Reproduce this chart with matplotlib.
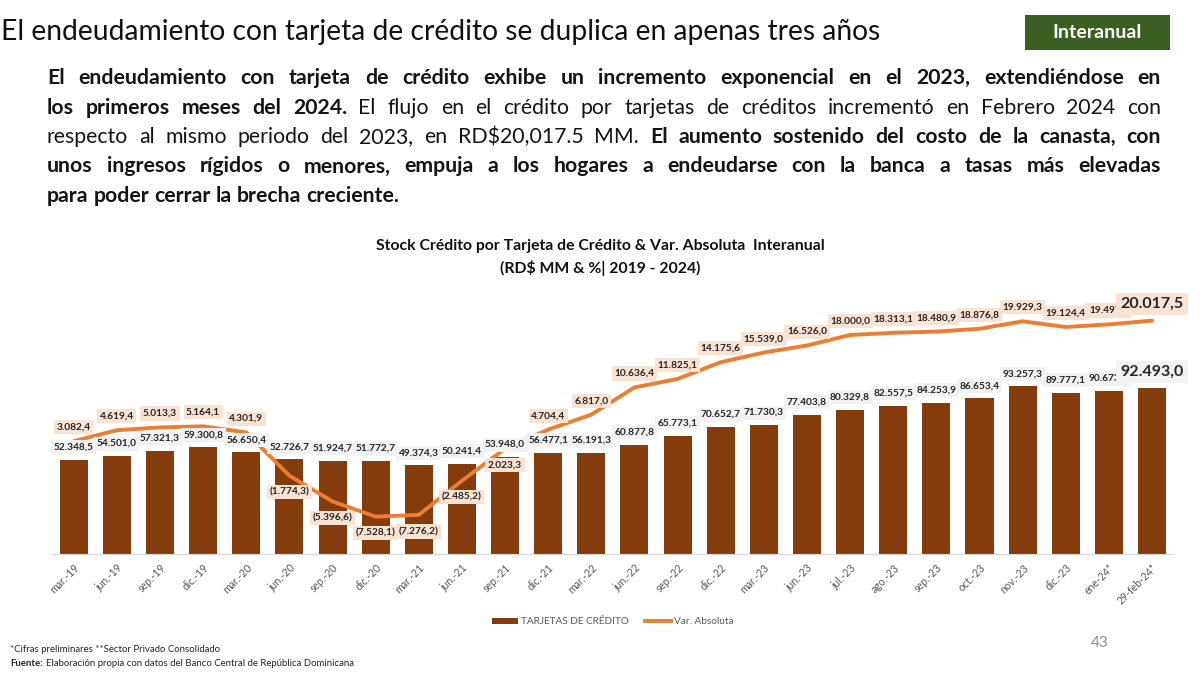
import matplotlib
matplotlib.use("Agg")
import matplotlib.pyplot as plt
from matplotlib.patches import Rectangle, Patch
from matplotlib.lines import Line2D

plt.rcParams['font.family'] = ['Lato', 'DejaVu Sans']

# datos (RD$ MM)
periodos = ["mar.-19", "jun.-19", "sep.-19", "dic.-19", "mar.-20", "jun.-20", "sep.-20", "dic.-20",
            "mar.-21", "jun.-21", "sep.-21", "dic.-21", "mar.-22", "jun.-22", "sep.-22", "dic.-22",
            "mar.-23", "jun.-23", "jul.-23", "ago.-23", "sep.-23", "oct.-23", "nov.-23", "dic.-23",
            "ene-24*", "29-feb-24*"]
stock = [52348.5, 54501.0, 57321.3, 59300.8, 56650.4, 52726.7, 51924.7, 51772.7,
         49374.3, 50241.4, 53948.0, 56477.1, 56191.3, 60877.8, 65773.1, 70652.7,
         71730.3, 77403.8, 80329.8, 82557.5, 84253.9, 86653.4, 93257.3, 89777.1,
         90673.0, 92493.0]
var_abs = [3082.4, 4619.4, 5013.3, 5164.1, 4301.9, -1774.3, -5396.6, -7528.1,
           -7276.2, -2485.2, 2023.3, 4704.4, 6817.0, 10636.4, 11825.1, 14175.6,
           15539.0, 16526.0, 18000.0, 18313.1, 18480.9, 18876.8, 19929.3, 19124.4,
           19497.0, 20017.5]

MARRON = '#843C0C'
NARANJA = '#ED7D31'
TEXTO = '#262626'


def fmt(v):
    s = f"{abs(v):,.1f}".replace(",", "X").replace(".", ",").replace("X", ".")
    return f"({s})" if v < 0 else s


W, H = 1200, 675
fig = plt.figure(figsize=(12, 6.75), dpi=100)
fig.patch.set_facecolor('white')

# encabezado
fig.text(0.001, 1 - 32 / H, "El endeudamiento con tarjeta de crédito se duplica en apenas tres años",
         fontsize=20.3, color='#111111', va='center', ha='left')
fig.patches.append(Rectangle((1025 / W, 1 - 50 / H), 145 / W, 35 / H, transform=fig.transFigure,
                             facecolor='#3B5E22', edgecolor='none'))
fig.text(1097 / W, 1 - 32.5 / H, "Interanual", fontsize=14, weight='bold', color='white',
         ha='center', va='center')

# párrafo justificado
parrafo = [
    [("El endeudamiento con tarjeta de crédito exhibe un incremento exponencial en el 2023, extendiéndose en", True)],
    [("los primeros meses del 2024.", True),
     ("El flujo en el crédito por tarjetas de créditos incrementó en Febrero 2024 con", False)],
    [("respecto al mismo periodo del 2023, en RD$20,017.5 MM.", False),
     ("El aumento sostenido del costo de la canasta, con", True)],
    [("unos ingresos rígidos o menores, empuja a los hogares a endeudarse con la banca a tasas más elevadas", True)],
    [("para poder cerrar la brecha creciente.", True)],
]
renderer = fig.canvas.get_renderer()
x_izq, x_der = 47, 1161
fs_par = 15.3
for n, tramos in enumerate(parrafo):
    y = 1 - (78 + n * 29.5) / H
    palabras = [(p, b) for frase, b in tramos for p in frase.split(" ")]
    objs = [fig.text(0, y, p, fontsize=fs_par, weight='bold' if b else 'normal',
                     color='#141414', va='center', ha='left') for p, b in palabras]
    anchos = [o.get_window_extent(renderer).width for o in objs]
    if n < len(parrafo) - 1:
        hueco = (x_der - x_izq - sum(anchos)) / (len(objs) - 1)
    else:
        hueco = 5.0
    xp = x_izq
    for o, a in zip(objs, anchos):
        o.set_x(xp / W)
        xp += a + hueco

# título del gráfico
fig.text(0.5, 1 - 246 / H, "Stock Crédito por Tarjeta de Crédito & Var. Absoluta  Interanual",
         fontsize=11.3, weight='bold', color='#111111', ha='center', va='center')
fig.text(0.5, 1 - 268 / H, "(RD$ MM & %| 2019 - 2024)",
         fontsize=11.3, weight='bold', color='#111111', ha='center', va='center')

# gráfico
ax = fig.add_axes([52.2 / W, 1 - 554 / H, (1173.6 - 52.2) / W, 269.5 / H])
x = list(range(len(periodos)))
ax.bar(x, stock, width=0.65, color=MARRON, zorder=2)
ax.set_xlim(-0.5, len(periodos) - 0.5)
ax.set_ylim(0, 150000)
for s in ['top', 'right', 'left']:
    ax.spines[s].set_visible(False)
ax.spines['bottom'].set_color('#D9D9D9')
ax.set_yticks([])
ax.set_xticks(x)
ax.set_xticklabels(periodos, rotation=45, ha='right', rotation_mode='anchor',
                   fontsize=7.6, color='#595959')
ax.tick_params(axis='x', length=0, pad=6)

ax2 = ax.twinx()
ax2.plot(x, var_abs, color=NARANJA, lw=2.8, solid_joinstyle='round', solid_capstyle='round', zorder=3)
ax2.set_ylim(-12780, 25100)
ax2.set_yticks([])
for s in ax2.spines.values():
    s.set_visible(False)

ultimo = len(periodos) - 1
for i, v in enumerate(stock):
    grande = i == ultimo
    y_bar = ax2.transData.inverted().transform(ax.transData.transform((i, v)))[1]
    ax2.annotate(fmt(v), (i, y_bar), xytext=(0, 11.5 if grande else 9), textcoords='offset points',
                 ha='center', va='center', fontsize=11.5 if grande else 7.3, weight='bold',
                 color=TEXTO, zorder=5,
                 bbox=dict(boxstyle='square,pad=0.25', facecolor='#F2F2F2', edgecolor='none'))

for i, v in enumerate(var_abs):
    grande = i == ultimo
    abajo = v < 2500
    dy = -12 if abajo else (12 if grande else 10)
    ax2.annotate(fmt(v), (i, v), xytext=(0, dy), textcoords='offset points',
                 ha='center', va='center', fontsize=11.5 if grande else 7.3, weight='bold',
                 color=TEXTO, zorder=6,
                 bbox=dict(boxstyle='square,pad=0.25', facecolor='#FBE3D3', edgecolor='none'))

# leyenda
manejadores = [Patch(facecolor=MARRON, edgecolor='none', label='TARJETAS DE CRÉDITO'),
               Line2D([0], [0], color=NARANJA, lw=2.8, label='Var. Absoluta')]
fig.legend(handles=manejadores, loc='center', bbox_to_anchor=(0.511, 1 - 622 / H), ncol=2,
           frameon=False, fontsize=7.2, labelcolor='#595959', handlelength=2.6,
           handleheight=0.6, columnspacing=1.6, handletextpad=0.3)

# notas
fig.text(10 / W, 1 - 649 / H, "*Cifras preliminares **Sector Privado Consolidado",
         fontsize=6.9, color='#262626', va='center')
f1 = fig.text(10 / W, 1 - 663 / H, "Fuente:", fontsize=6.9, weight='bold', color='#262626', va='center')
ancho_f = f1.get_window_extent(renderer).width
fig.text((10 + ancho_f + 3) / W, 1 - 663 / H,
         "Elaboración propia con datos del Banco Central de República Dominicana",
         fontsize=6.9, color='#262626', va='center')
fig.text(1100 / W, 1 - 643 / H, "43", fontsize=11, color='#8C8C8C', ha='center', va='center')

fig.savefig("out.png", dpi=100)
